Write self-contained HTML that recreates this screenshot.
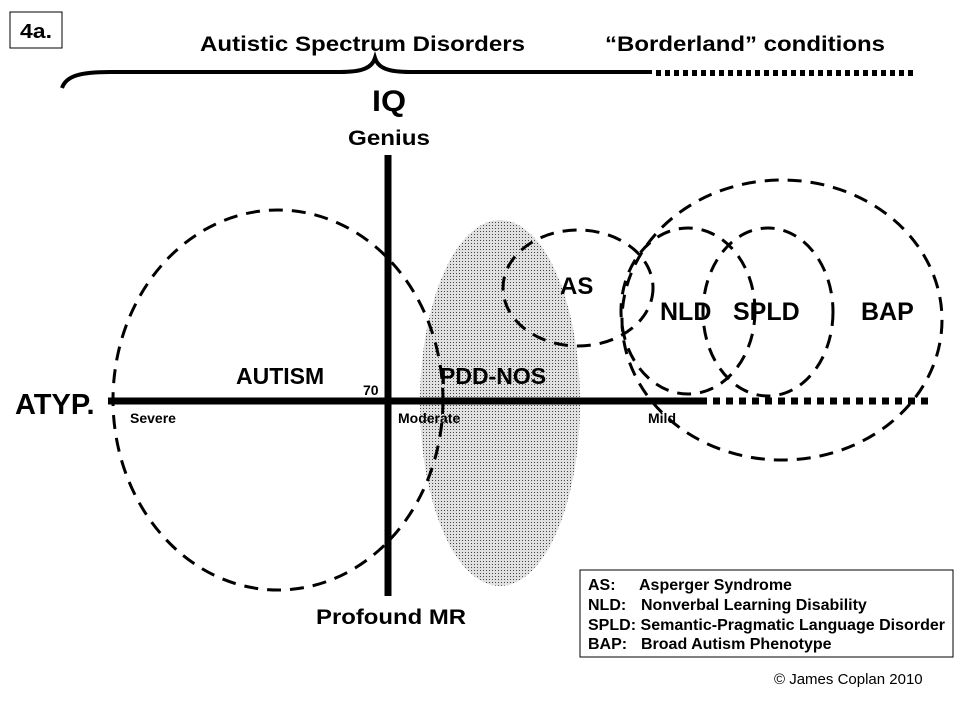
<!DOCTYPE html>
<html><head><meta charset="utf-8"><style>html,body{margin:0;padding:0;background:#fff}svg{display:block}</style></head>
<body>
<svg width="960" height="720" viewBox="0 0 960 720" xmlns="http://www.w3.org/2000/svg" font-family="Liberation Sans, Arial, sans-serif">
<defs>
<pattern id="dots" width="3" height="3" patternUnits="userSpaceOnUse">
<rect width="3" height="3" fill="#e0e0e0"/><rect width="1" height="1" fill="#444"/>
</pattern>
</defs>
<rect x="10" y="12" width="52" height="36" fill="#fff" stroke="#000" stroke-width="1"/>
<text x="20" y="38" font-size="20" font-weight="bold" textLength="32" lengthAdjust="spacingAndGlyphs">4a.</text>
<text x="200" y="51" font-size="21" font-weight="bold" textLength="325" lengthAdjust="spacingAndGlyphs">Autistic Spectrum Disorders</text>
<text x="605" y="51" font-size="21" font-weight="bold" textLength="280" lengthAdjust="spacingAndGlyphs">“Borderland” conditions</text>
<path d="M62,88 C66,76 80,72 110,72 L340,72 C362,72 372,68 375,58 C378,68 388,72 410,72 L652,72" fill="none" stroke="#000" stroke-width="4"/>
<line x1="656" y1="73" x2="915" y2="73" stroke="#000" stroke-width="6" stroke-dasharray="5,4"/>
<text x="372" y="111" font-size="30" font-weight="bold" textLength="34" lengthAdjust="spacingAndGlyphs">IQ</text>
<text x="348" y="145" font-size="21" font-weight="bold" textLength="82" lengthAdjust="spacingAndGlyphs">Genius</text>
<ellipse cx="500" cy="403" rx="80" ry="183" fill="url(#dots)"/>
<line x1="388" y1="155" x2="388" y2="596" stroke="#000" stroke-width="7"/>
<line x1="108" y1="401" x2="700" y2="401" stroke="#000" stroke-width="7"/>
<line x1="700" y1="401" x2="930" y2="401" stroke="#000" stroke-width="7" stroke-dasharray="7,6"/>
<g fill="none" stroke="#000" stroke-width="3" stroke-dasharray="14,9">
<ellipse cx="278" cy="400" rx="165" ry="190"/>
<ellipse cx="578" cy="288" rx="75" ry="58"/>
<ellipse cx="688" cy="311" rx="67" ry="83"/>
<ellipse cx="768" cy="312" rx="65" ry="84"/>
<ellipse cx="782" cy="320" rx="160" ry="140"/>
</g>
<text x="560" y="294" font-size="24" font-weight="bold">AS</text>
<text x="660" y="320" font-size="25" font-weight="bold">NLD</text>
<text x="733" y="320" font-size="25" font-weight="bold">SPLD</text>
<text x="861" y="320" font-size="25" font-weight="bold">BAP</text>
<text x="440" y="384" font-size="23" font-weight="bold">PDD-NOS</text>
<text x="236" y="384" font-size="23" font-weight="bold">AUTISM</text>
<text x="363" y="395" font-size="14" font-weight="bold">70</text>
<text x="15" y="414" font-size="29" font-weight="bold">ATYP.</text>
<text x="130" y="423" font-size="14" font-weight="bold">Severe</text>
<text x="398" y="423" font-size="14" font-weight="bold">Moderate</text>
<text x="648" y="423" font-size="14" font-weight="bold">Mild</text>
<text x="316" y="624" font-size="21" font-weight="bold" textLength="150" lengthAdjust="spacingAndGlyphs">Profound MR</text>
<rect x="580" y="570" width="373" height="87" fill="#fff" stroke="#000" stroke-width="1"/>
<g font-size="16" font-weight="bold">
<text x="588" y="590">AS:<tspan x="639">Asperger Syndrome</tspan></text>
<text x="588" y="610">NLD:<tspan x="641">Nonverbal Learning Disability</tspan></text>
<text x="588" y="630" textLength="357" lengthAdjust="spacingAndGlyphs">SPLD: Semantic-Pragmatic Language Disorder</text>
<text x="588" y="649">BAP:<tspan x="641">Broad Autism Phenotype</tspan></text>
</g>
<text x="774" y="684" font-size="15">© James Coplan 2010</text>
</svg>
</body></html>
